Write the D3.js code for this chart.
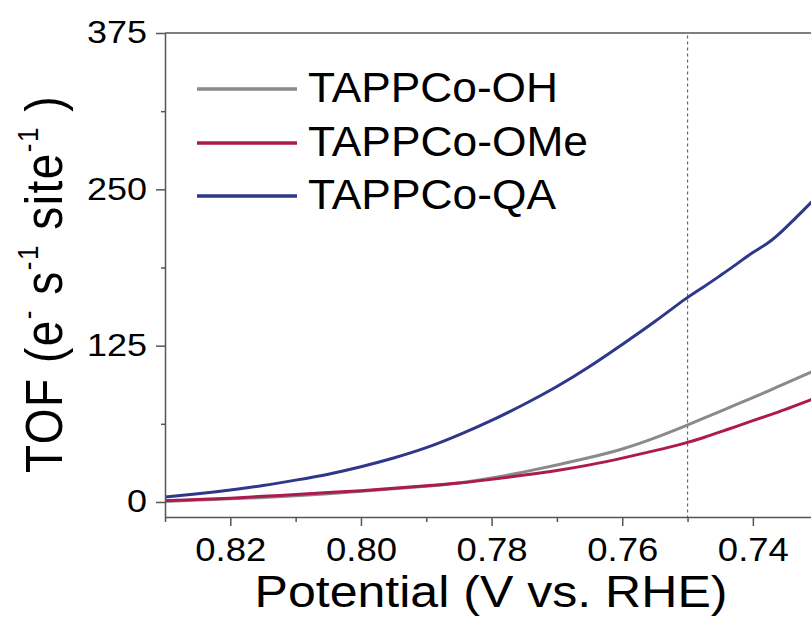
<!DOCTYPE html>
<html>
<head>
<meta charset="utf-8">
<script src="https://cdn.jsdelivr.net/npm/d3@7"></script>
<style>
  body { margin: 0; background: #fff; }
  svg text { font-family: "Liberation Sans", Arial, sans-serif; fill: #000; }
</style>
</head>
<body>
<div id="chart"></div>
<script>
// Values
const potential = [0.830, 0.825, 0.820, 0.815, 0.810, 0.805, 0.800, 0.795, 0.790, 0.785,
                   0.780, 0.775, 0.770, 0.765, 0.760, 0.755, 0.750, 0.7475, 0.745, 0.7425,
                   0.740, 0.7375, 0.735, 0.7325, 0.731];
const tofOH  = [0.5, 1.5, 2.5, 3.5, 5, 6.5, 8.5, 10.5, 12.5, 15,
                19, 24, 29.5, 35.5, 42, 51, 61.5, 67, 72.5, 78,
                83.5, 89, 95, 100.5, 104];
const tofOMe = [1, 2, 3, 4.5, 6, 7.5, 9, 11, 13, 15,
                18, 21.5, 25, 29.5, 35, 41, 47.5, 51.5, 56, 60.5,
                65, 69.5, 74, 79, 82];
const tofQA  = [4, 6.5, 9.5, 13, 17.5, 22, 28, 35, 43, 53.5,
                65, 78, 92, 108, 126, 144, 164, 172, 181, 190,
                200, 207, 219, 232, 240];
const seriesNames = ["TAPPCo-OH", "TAPPCo-OMe", "TAPPCo-QA"];
const seriesColors = ["#8a8a8a", "#ad1a52", "#2e378a"];
const xTicks = [0.82, 0.80, 0.78, 0.76, 0.74];
const xMinor = [0.83, 0.81, 0.79, 0.77, 0.75, 0.73];
const yTicks = [0, 125, 250, 375];
const yMinor = [62.5, 187.5, 312.5];
const markPotential = 0.75;

const W = 811, H = 625;
const plot = {left: 165, right: 811, top: 33, bottom: 517};

const svg = d3.select("#chart").append("svg")
  .attr("width", W)
  .attr("height", H);

const x = d3.scaleLinear().domain([0.83, 0.7311]).range([plot.left, plot.right]);
const y = d3.scaleLinear().domain([-12, 375]).range([plot.bottom, plot.top]);

svg.append("clipPath").attr("id", "clip")
  .append("rect")
  .attr("x", plot.left).attr("y", plot.top)
  .attr("width", plot.right - plot.left).attr("height", plot.bottom - plot.top);

// dashed marker at 0.75 V
svg.append("line")
  .attr("x1", x(markPotential)).attr("x2", x(markPotential))
  .attr("y1", y(373)).attr("y2", y(-12))
  .attr("stroke", "#666").attr("stroke-width", 1.2)
  .attr("stroke-dasharray", "3,3");

// curves
const series = [tofOH, tofOMe, tofQA];
const line = d3.line()
  .x((d, i) => x(potential[i]))
  .y(d => y(d))
  .curve(d3.curveBasis);

svg.append("g").attr("clip-path", "url(#clip)")
  .selectAll("path")
  .data(series)
  .join("path")
  .attr("fill", "none")
  .attr("stroke", (d, i) => seriesColors[i])
  .attr("stroke-width", 3)
  .attr("d", line);

// axes
const axisColor = "#555";
function styleAxis(g) {
  g.select(".domain").attr("stroke", axisColor).attr("stroke-width", 1.5);
  g.selectAll(".tick line").attr("stroke", axisColor).attr("stroke-width", 1.5);
}

const xAxis = svg.append("g")
  .attr("transform", `translate(0,${plot.bottom})`)
  .call(d3.axisBottom(x).tickValues(xTicks).tickFormat(d3.format(".2f"))
        .tickSizeInner(9).tickSizeOuter(0).tickPadding(12))
  .call(styleAxis);
xAxis.selectAll(".tick text")
  .attr("font-size", 33)
  .attr("textLength", 71)
  .attr("lengthAdjust", "spacingAndGlyphs");

svg.append("g")
  .attr("transform", `translate(0,${plot.bottom})`)
  .call(d3.axisBottom(x).tickValues(xMinor).tickFormat("").tickSizeInner(5).tickSizeOuter(0))
  .call(styleAxis)
  .select(".domain").remove();

const yAxis = svg.append("g")
  .attr("transform", `translate(${plot.left},0)`)
  .call(d3.axisLeft(y).tickValues(yTicks).tickSizeInner(9).tickSizeOuter(0).tickPadding(9))
  .call(styleAxis);
yAxis.selectAll(".tick text")
  .attr("font-size", 31)
  .attr("textLength", d => String(d).length * 20)
  .attr("lengthAdjust", "spacingAndGlyphs");

svg.append("g")
  .attr("transform", `translate(${plot.left},0)`)
  .call(d3.axisLeft(y).tickValues(yMinor).tickFormat("").tickSizeInner(4).tickSizeOuter(0))
  .call(styleAxis)
  .select(".domain").remove();

// top frame line
svg.append("line")
  .attr("x1", plot.left).attr("x2", plot.right)
  .attr("y1", plot.top).attr("y2", plot.top)
  .attr("stroke", axisColor).attr("stroke-width", 1.5);

// axis titles
svg.append("text")
  .attr("x", 491).attr("y", 607)
  .attr("text-anchor", "middle")
  .attr("font-size", 44)
  .attr("textLength", 473)
  .attr("lengthAdjust", "spacingAndGlyphs")
  .text("Potential (V vs. RHE)");

const yTitle = svg.append("text")
  .attr("transform", "translate(62,284) scale(1.13,1) rotate(-90)")
  .attr("text-anchor", "middle")
  .attr("font-size", 46)
  .attr("letter-spacing", 1.5);
yTitle.append("tspan").text("TOF (e");
yTitle.append("tspan").attr("font-size", 26).attr("dy", -21).text("-");
yTitle.append("tspan").attr("dy", 21).text("  s");
yTitle.append("tspan").attr("font-size", 26).attr("dy", -21).text("-1");
yTitle.append("tspan").attr("dy", 21).text("  site");
yTitle.append("tspan").attr("font-size", 26).attr("dy", -21).text("-1");
yTitle.append("tspan").attr("dy", 21).text(" )");

// legend
const legendY = [89, 143, 196];
const legendWidths = [250, 280, 248];
const legend = svg.append("g")
  .selectAll("g")
  .data(seriesNames)
  .join("g")
  .attr("transform", (d, i) => `translate(0,${legendY[i]})`);
legend.append("line")
  .attr("x1", 197).attr("x2", 297)
  .attr("stroke", (d, i) => seriesColors[i])
  .attr("stroke-width", 3.5);
legend.append("text")
  .attr("x", 308).attr("y", 13)
  .attr("font-size", 43)
  .attr("textLength", (d, i) => legendWidths[i])
  .attr("lengthAdjust", "spacingAndGlyphs")
  .text(d => d);
</script>
</body>
</html>
